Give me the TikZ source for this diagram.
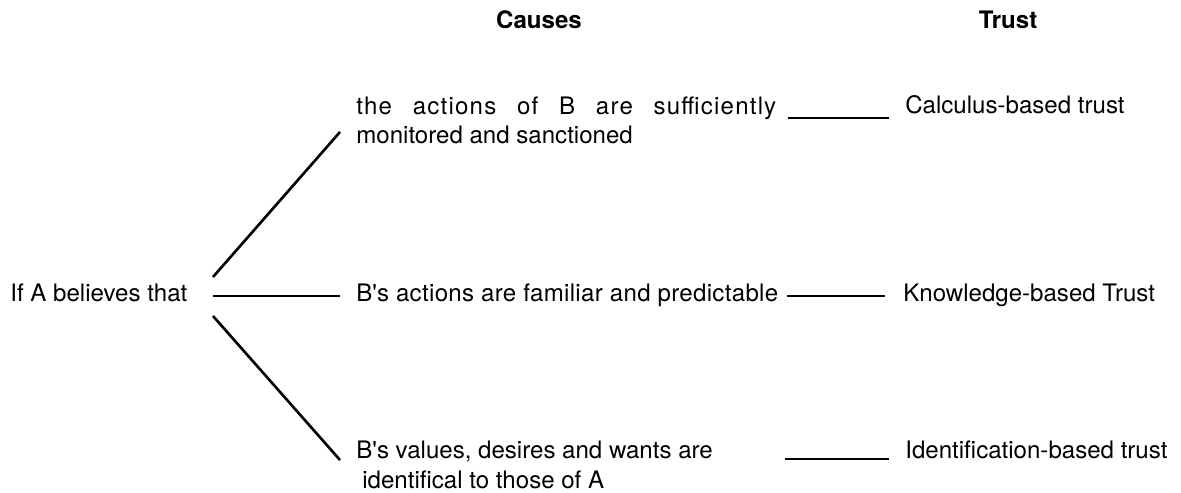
\documentclass[tikz,border=0pt]{standalone}
\usepackage{fontspec}
\setmainfont{TeX Gyre Heros}
\newfontfamily\spaced{TeX Gyre Heros}[LetterSpace=5]
\newfontfamily\loose{TeX Gyre Heros}[LetterSpace=1.3]
\usetikzlibrary{calc,positioning}

\begin{document}
\begin{tikzpicture}[x=0.02cm,y=-0.02cm,
  font=\fontsize{13.7}{16}\selectfont,
  txt/.style={anchor=base west,inner sep=0pt},
  head/.style={anchor=base,inner sep=0pt,font=\fontsize{13.7}{16}\selectfont\bfseries},
  link/.style={line width=1.5pt}]
  \def\xa{10}     % column of the premise
  \def\xb{356}    % column of the causes
  \def\xc{905}    % column of the kinds of trust
  \useasboundingbox (0,0) rectangle (1181,493);

  % --- headings
  \node[head] (causes) at (539,29) {Causes};
  \node[head] (trust)  at (1008,29) {Trust};

  % --- premise
  \node[txt] (believe) at (\xa,302) {If A believes that};

  % --- causes
  \node[txt] (monitored)  at (\xb,115) {\spaced\makebox[8.4cm][s]{the actions of B are sufficiently}};
  \node[txt] (monitored2) at (\xb,144) {monitored and sanctioned};
  \node[txt] (familiar)   at (\xb,302) {\loose B\textquotesingle s actions are familiar and predictable};
  \node[txt] (values)     at (\xb,459) {B\textquotesingle s values, desires and wants are};
  \node[txt] (values2)    at (\xb+6,488) {identifical to those of A};

  % --- kinds of trust
  \node[txt] (calculus)       at (\xc,114)   {Calculus-based trust};
  \node[txt] (knowledge)      at (\xc-2,302) {Knowledge-based Trust};
  \node[txt] (identification) at (\xc,459)   {Identification-based trust};

  % --- fan out of the premise
  \coordinate (f1) at (213,277);
  \coordinate (f2) at (213,296);
  \coordinate (f3) at (213,316);
  \draw[link] (f1) -- ($(monitored.base west)+(-16,17)$);
  \draw[link] (f2) -- ($(f2 -| familiar.west)+(-16,0)$);
  \draw[link] (f3) -- ($(values.base west)+(-16,1)$);

  % --- causes to trust
  \draw[link] ($(monitored.base east)+(11,3)$) -- ($(calculus.base west)+(-16,4)$);
  \draw[link] ($(f2 -| familiar.east)+(8,0)$) -- ($(f2 -| knowledge.west)+(-18,0)$);
  \draw[link] ($(identification.base west)+(-120,0)$) -- ($(identification.base west)+(-16,0)$);
\end{tikzpicture}
\end{document}
